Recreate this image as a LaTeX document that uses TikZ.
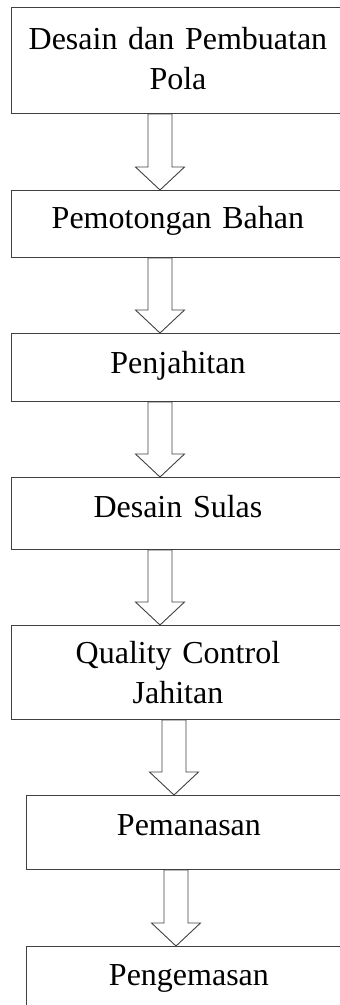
\documentclass[tikz,border=0pt]{standalone}
\usepackage{fontspec}
\setmainfont{Liberation Serif}
\usepackage{tikz}
\usetikzlibrary{calc}
\tikzstyle{etape}=[
        rectangle,
        draw=black!75,
        line width=0.9pt,
        anchor=north west,
        inner sep=0pt,
        text width=333pt,
        align=center,
        font=\fontsize{32}{40}\selectfont
]
\tikzstyle{bloc}=[draw=black!75,line width=0.9pt]
% fleche creuse : de #1 vers #2, axe en x=#3
\newcommand{\fleche}[3]{%
\draw[bloc] (#3-12,0 |- #1.south) -- ($(#3-12,0 |- #2.north)+(0,-23)$)
  -- ($(#3-24.5,0 |- #2.north)+(0,-23)$) -- (#3,0 |- #2.north)
  -- ($(#3+24.5,0 |- #2.north)+(0,-23)$) -- ($(#3+12,0 |- #2.north)+(0,-23)$)
  -- (#3+12,0 |- #1.south) -- cycle;}

\begin{document}
\begin{tikzpicture}[x=1pt,y=-1pt]
\useasboundingbox (0,0) rectangle (340,1005);
\clip (0,0) rectangle (340,1005);
\node[etape,text height=42pt,text depth=64pt] (a) at (11,7) {Desain dan Pembuatan\\Pola};
\node[etape,text height=38pt,text depth=29pt] (b) at (11,190) {Pemotongan Bahan};
\node[etape,text height=40pt,text depth=28pt] (c) at (11,333) {Penjahitan};
\node[etape,text height=40pt,text depth=32pt] (d) at (11,477) {Desain Sulas};
\node[etape,text height=38pt,text depth=56pt] (e) at (11,625) {Quality Control\\Jahitan};
\node[etape,text width=325pt,text height=40pt,text depth=34pt] (f) at (26,795) {Pemanasan};
\node[etape,text width=325pt,text height=39pt,text depth=80pt] (g) at (26,946) {Pengemasan};
%Placement des fleches
\fleche{a}{b}{160}
\fleche{b}{c}{160}
\fleche{c}{d}{160}
\fleche{d}{e}{160}
\fleche{e}{f}{174}
\fleche{f}{g}{176}
\end{tikzpicture}
\end{document}
